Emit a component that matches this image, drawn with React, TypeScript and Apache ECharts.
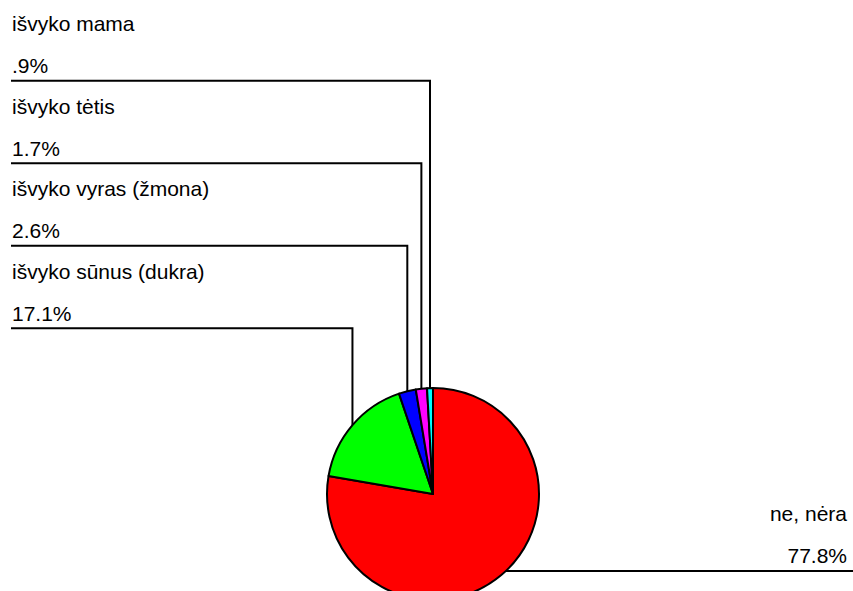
import React, { useEffect, useRef } from "react";
import * as echarts from "echarts";

const categories = ["ne, nėra", "išvyko sūnus (dukra)", "išvyko vyras (žmona)", "išvyko tėtis", "išvyko mama"];
const percents = [77.8, 17.1, 2.6, 1.7, 0.9];
const colors = ["#ff0000", "#00ff00", "#0000ff", "#ff00ff", "#00ffff"];

const fmtPct = (v: number) => String(v).replace(/^0(?=\.)/, "") + "%";

export default function App() {
  const ref = useRef<HTMLDivElement>(null);
  useEffect(() => {
    if (!ref.current) return;
    const chart = echarts.init(ref.current, undefined, { renderer: "svg" });
    const n = categories.length;
    chart.setOption({
      animation: false,
      backgroundColor: "#ffffff",
      series: [
        {
          type: "pie",
          center: [433, 494],
          radius: 106,
          startAngle: 90,
          clockwise: true,
          avoidLabelOverlap: false,
          silent: true,
          data: categories.map((c, i) => ({
            name: c,
            value: percents[i],
            itemStyle: { color: colors[i] },
          })),
          itemStyle: { borderColor: "#000", borderWidth: 2 },
          label: {
            show: true,
            position: "outside",
            fontFamily: "Liberation Sans, Arial, sans-serif",
            fontSize: 21,
            lineHeight: 42,
            color: "#000",
            formatter: (p: any) => `${p.name}\n${fmtPct(p.value)}`,
          },
          labelLine: {
            show: true,
            lineStyle: { color: "#000", width: 2 },
          },
          labelLayout: (params: any) => {
            const i = params.dataIndex;
            const p0 = params.labelLinePoints ? params.labelLinePoints[0] : [0, 0];
            if (i === 0) {
              const top = 492;
              const ly = 571;
              return {
                x: 847,
                y: top,
                align: "right",
                verticalAlign: "top",
                labelLinePoints: [p0, [p0[0], ly], [853, ly]],
              };
            }
            const slot = n - 1 - i;
            const top = 2.7 + slot * 82.5;
            const ly = top + 78;
            return {
              x: 12,
              y: top,
              align: "left",
              verticalAlign: "top",
              labelLinePoints: [p0, [p0[0], ly], [11, ly]],
            };
          },
          emphasis: { disabled: true },
        },
      ],
    });
    return () => chart.dispose();
  }, []);
  return (
    <div
      ref={ref}
      style={{ position: "fixed", left: 0, top: 0, width: 853, height: 591, background: "#fff" }}
    />
  );
}
